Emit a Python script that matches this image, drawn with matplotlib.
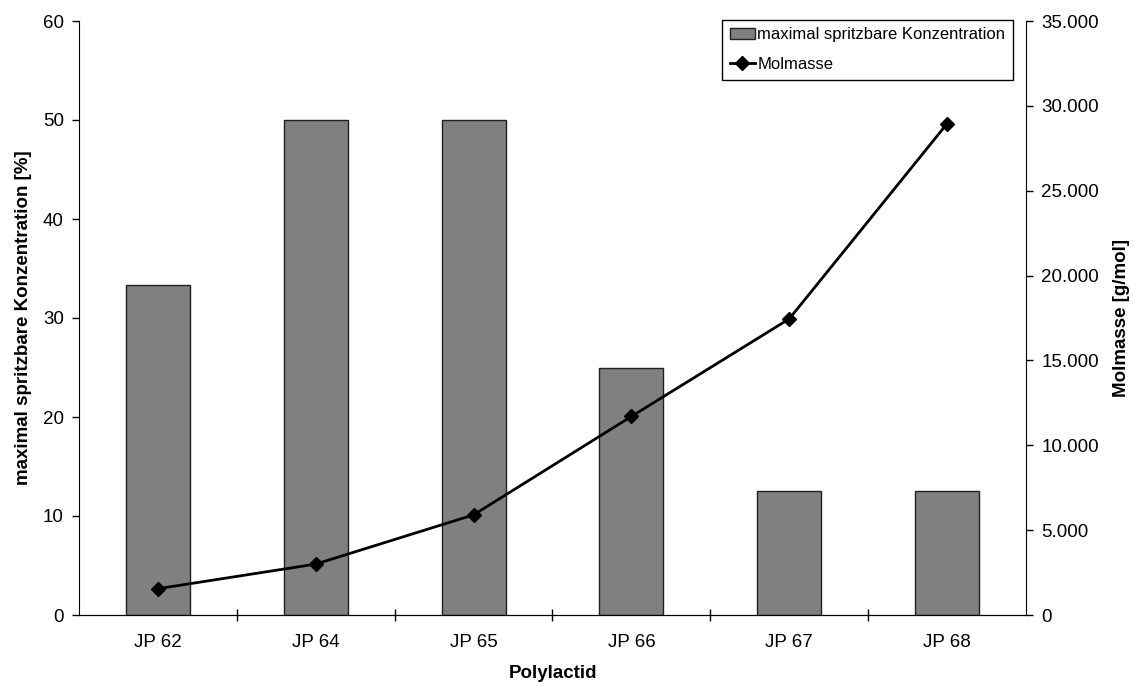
import matplotlib.pyplot as plt
from matplotlib.ticker import FuncFormatter

plt.rcParams['font.family'] = ['Liberation Sans', 'DejaVu Sans']

categories = ['JP 62', 'JP 64', 'JP 65', 'JP 66', 'JP 67', 'JP 68']
konzentration = [33.3, 50, 50, 25, 12.5, 12.5]
molmasse = [1550, 3000, 5900, 11700, 17450, 28950]

fig = plt.figure(figsize=(11.32, 6.86), dpi=100)
ax = fig.add_axes([79 / 1132, 71 / 686, 947 / 1132, 594 / 686])
x = range(len(categories))

bars = ax.bar(x, konzentration, width=0.405, color='#808080', edgecolor='#202020',
              linewidth=1, label='maximal spritzbare Konzentration', zorder=2)
ax.set_xlim(-0.5, len(categories) - 0.5)
ax.set_ylim(0, 60)
ax.set_yticks(range(0, 61, 10))
ax.set_xticks(x)
ax.set_xticklabels(categories)
ax.set_xticks([i + 0.5 for i in range(len(categories) - 1)], minor=True)
ax.tick_params(axis='x', which='major', length=0, pad=14, labelsize=13.5)
ax.tick_params(axis='x', which='minor', direction='inout', length=9, width=1)
ax.tick_params(axis='y', direction='out', length=5, width=1, labelsize=13.5, pad=6)
ax.spines['top'].set_visible(False)
ax.spines['right'].set_visible(False)
ax.set_ylabel('maximal spritzbare Konzentration [%]', fontsize=13.5, fontweight='bold', labelpad=8)
ax.set_xlabel('Polylactid', fontsize=13.5, fontweight='bold', labelpad=10)

ax2 = ax.twinx()
line, = ax2.plot(x, molmasse, color='black', linewidth=2, marker='D', markersize=7,
                 label='Molmasse', zorder=3)
ax2.set_ylim(0, 35000)
ax2.set_yticks(range(0, 35001, 5000))
ax2.yaxis.set_major_formatter(FuncFormatter(lambda v, p: f'{int(v):,}'.replace(',', '.')))
ax2.tick_params(axis='y', direction='out', length=5, width=1, labelsize=13.5, pad=6)
ax2.spines['top'].set_visible(False)
ax2.spines['left'].set_visible(False)
ax2.set_ylabel('Molmasse [g/mol]', fontsize=13.5, fontweight='bold', labelpad=10)

leg = ax2.legend([bars, line], ['maximal spritzbare Konzentration', 'Molmasse'],
                 loc='upper right', bbox_to_anchor=(0.986, 1.002), fontsize=12,
                 frameon=True, fancybox=False, edgecolor='black', framealpha=1,
                 borderpad=0.45, labelspacing=0.9, handlelength=1.5, handletextpad=0.15,
                 borderaxespad=0)
leg.get_frame().set_linewidth(1)

fig.savefig('out.png', dpi=100)
